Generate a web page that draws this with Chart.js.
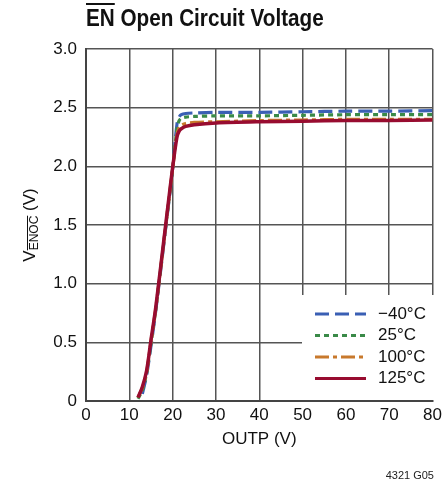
<!DOCTYPE html>
<html>
<head>
<meta charset="UTF-8">
<script src="https://cdn.jsdelivr.net/npm/chart.js"></script>
<style>
  body { margin: 0; background: #fff; }
  #wrap { position: relative; width: 446px; height: 488px; }
  #title { position: absolute; left: 86px; top: 5px; font: bold 23px 'Liberation Sans Narrow', 'Liberation Sans', sans-serif; color: #111; white-space: nowrap; transform: scaleX(0.9); transform-origin: left top; }
  #title .ov { text-decoration: overline; }
  #code { position: absolute; right: 12px; top: 469px; font: 11px 'Liberation Sans Narrow', 'Liberation Sans', sans-serif; color: #222; }
</style>
</head>
<body>
<div id="wrap">
  <canvas id="chart" width="446" height="488"></canvas>
  <div id="title"><span class="ov">EN</span> Open Circuit Voltage</div>
  <div id="code">4321 G05</div>
</div>
<script>
// OUTP (V)
const outp = [12, 13, 14, 15, 16, 17, 18, 19, 20, 21, 21.5, 22, 23, 25, 30, 40, 50, 60, 70, 80];
// VENOC (V) per temperature
const vM40 = [null, 0.06, 0.22, 0.47, 0.74, 1.04, 1.35, 1.66, 1.98, 2.36, 2.42, 2.44, 2.45, 2.455, 2.46, 2.46, 2.465, 2.47, 2.47, 2.475];
const v25  = [0.02, 0.09, 0.24, 0.49, 0.75, 1.05, 1.36, 1.67, 1.98, 2.32, 2.39, 2.41, 2.42, 2.425, 2.43, 2.43, 2.435, 2.44, 2.44, 2.44];
const v100 = [0.03, 0.11, 0.25, 0.51, 0.76, 1.06, 1.37, 1.68, 1.98, 2.27, 2.33, 2.35, 2.365, 2.375, 2.38, 2.39, 2.395, 2.40, 2.40, 2.40];
const v125 = [0.03, 0.12, 0.26, 0.52, 0.77, 1.07, 1.38, 1.69, 1.99, 2.25, 2.30, 2.32, 2.34, 2.355, 2.37, 2.38, 2.385, 2.39, 2.39, 2.395];
const labels = ['\u221240\u00B0C', '25\u00B0C', '100\u00B0C', '125\u00B0C'];
const colors = ['#3a5fb4', '#3a8a48', '#c8792c', '#980c30'];
const dashes = [[14, 6], [5, 4], [14, 4, 4, 4], []];

const FONT = "'Liberation Sans Narrow', 'Liberation Sans', sans-serif";
const series = [vM40, v25, v100, v125];

const datasets = series.map((v, i) => ({
  label: labels[i],
  data: outp.map((x, j) => ({ x: x, y: v[j] })).filter(p => p.y !== null),
  borderColor: colors[i],
  borderWidth: i === 3 ? 3.5 : 3.2,
  borderDash: dashes[i],
  pointRadius: 0,
  tension: 0.3,
  order: 4 - i
}));

const overlay = {
  id: 'overlay',
  afterDraw(chart) {
    const ctx = chart.ctx;
    const a = chart.chartArea;
    ctx.save();
    // legend box
    const lx = 302, ly = 295, lw = 132, lh = a.bottom - 295 - 1;
    ctx.fillStyle = '#fff';
    ctx.fillRect(lx, ly, lw, lh);
    for (let i = 0; i < 4; i++) {
      const y = 314 + i * 21.5;
      ctx.beginPath();
      ctx.strokeStyle = colors[i];
      ctx.lineWidth = 3.2;
      ctx.setLineDash(dashes[i]);
      ctx.moveTo(315, y);
      ctx.lineTo(366, y);
      ctx.stroke();
      ctx.setLineDash([]);
      ctx.fillStyle = '#111';
      ctx.font = '17px ' + FONT;
      ctx.textBaseline = 'middle';
      ctx.textAlign = 'left';
      ctx.fillText(labels[i], 378, y);
    }
    // x title
    ctx.fillStyle = '#111';
    ctx.font = '17px ' + FONT;
    ctx.textAlign = 'center';
    ctx.textBaseline = 'middle';
    ctx.fillText('OUTP (V)', (a.left + a.right) / 2, 439);
    // y title
    ctx.translate(30, (a.top + a.bottom) / 2);
    ctx.rotate(-Math.PI / 2);
    ctx.textAlign = 'left';
    ctx.font = '17px ' + FONT;
    const w1 = ctx.measureText('V').width;
    ctx.font = '12px ' + FONT;
    const w2 = ctx.measureText('ENOC').width;
    ctx.font = '17px ' + FONT;
    const w3 = ctx.measureText(' (V)').width;
    let x0 = -(w1 + w2 + w3) / 2;
    ctx.fillText('V', x0, 0);
    ctx.font = '12px ' + FONT;
    ctx.fillText('ENOC', x0 + w1, 5);
    ctx.beginPath();
    ctx.strokeStyle = '#111';
    ctx.lineWidth = 1;
    ctx.moveTo(x0 + w1, -2.5);
    ctx.lineTo(x0 + w1 + w2, -2.5);
    ctx.stroke();
    ctx.font = '17px ' + FONT;
    ctx.fillText(' (V)', x0 + w1 + w2, 0);
    ctx.restore();
  }
};

new Chart(document.getElementById('chart'), {
  type: 'line',
  data: { datasets: datasets },
  options: {
    responsive: false,
    animation: false,
    layout: { padding: { top: 49, right: 9, left: 0, bottom: 0 } },
    plugins: { legend: { display: false }, tooltip: { enabled: false } },
    scales: {
      x: {
        type: 'linear', min: 0, max: 80,
        ticks: { stepSize: 10, color: '#111', font: { family: FONT, size: 17 }, padding: 4, maxRotation: 0 },
        grid: { color: '#555', lineWidth: 1.5, drawTicks: false },
        border: { color: '#444', width: 2 },
        afterFit: s => { s.height = 87; }
      },
      y: {
        min: 0, max: 3,
        ticks: { stepSize: 0.5, color: '#111', font: { family: FONT, size: 17 }, padding: 9, callback: v => v === 0 ? '0' : v.toFixed(1) },
        grid: { color: '#555', lineWidth: 1.5, drawTicks: false },
        border: { color: '#444', width: 2 },
        afterFit: s => { s.width = 86; }
      }
    }
  },
  plugins: [overlay]
});
</script>
</body>
</html>
